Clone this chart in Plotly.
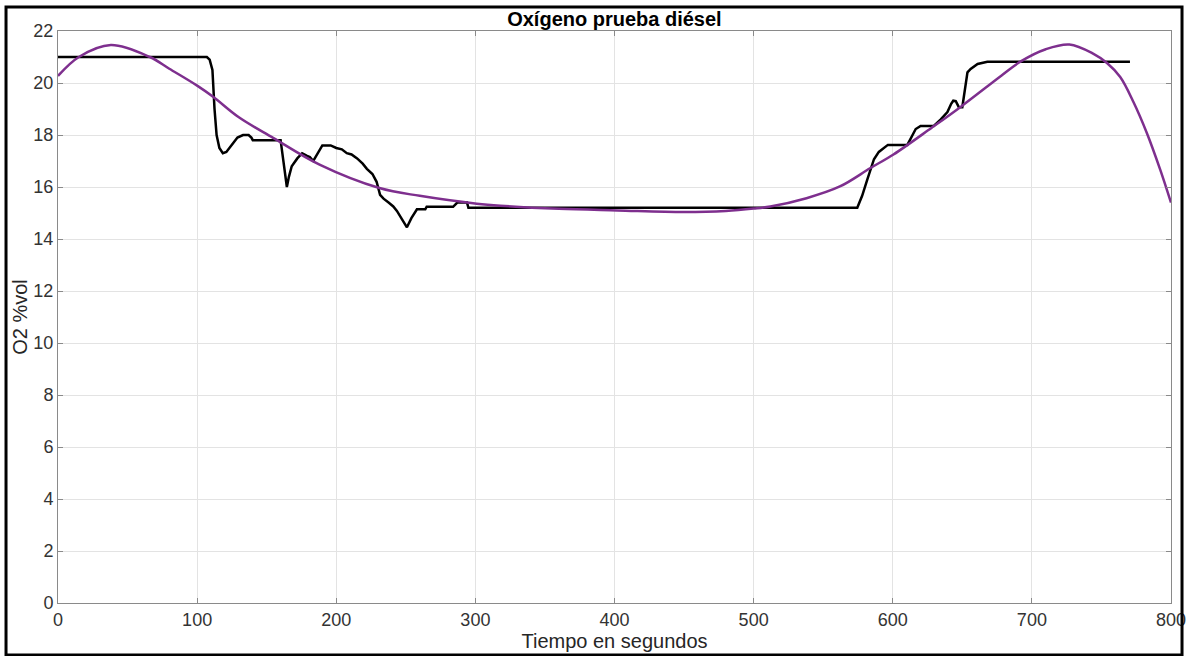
import plotly.graph_objects as go

# Measured O2 (black)
t_meas = [0, 107, 109, 111, 112.5, 114, 116, 118.5, 121, 124, 127, 129, 133, 137, 139, 140,
          160, 162, 164.5, 166, 168, 172, 175.5, 179, 181, 183.5, 187, 190, 196, 200, 204,
          207.6, 211, 215, 219, 222, 226, 229, 231.5, 234, 237.6, 241, 243.6, 247, 250.8,
          254, 258, 264, 265, 284, 287, 294, 295, 574.5, 578, 581.8, 586.5, 590, 592.5,
          596.5, 610.5, 613, 616.5, 620, 629.5, 634.5, 639.3, 642, 643.5, 645.3, 647.5,
          650, 652, 653.7, 656, 661, 668, 770.5]
o2_meas = [21.0, 21.0, 20.9, 20.5, 19.0, 18.0, 17.5, 17.3, 17.35, 17.55, 17.75, 17.9, 18.0,
           18.0, 17.9, 17.8, 17.8, 17.0, 16.0, 16.4, 16.8, 17.1, 17.3, 17.2, 17.15, 17.0,
           17.35, 17.6, 17.6, 17.5, 17.45, 17.3, 17.25, 17.1, 16.9, 16.7, 16.5, 16.2, 15.7,
           15.55, 15.4, 15.25, 15.08, 14.8, 14.45, 14.8, 15.14, 15.14, 15.24, 15.24, 15.4,
           15.4, 15.2, 15.2, 15.66, 16.3, 17.07, 17.35, 17.46, 17.62, 17.62, 17.9, 18.23,
           18.35, 18.35, 18.6, 18.88, 19.2, 19.32, 19.3, 19.07, 19.07, 19.8, 20.41, 20.54,
           20.73, 20.82, 20.82]

# Fitted curve (purple)
t_fit = [0, 15, 38, 66, 80, 100, 111.5, 130, 154.6, 188, 231, 260, 301, 318, 360, 402,
         450, 480, 500, 512, 538, 562, 584, 600.5, 628, 649, 678, 692, 710, 727, 744, 754,
         763.5, 773, 782.7, 792.3, 800]
o2_fit = [20.27, 21.0, 21.46, 21.0, 20.55, 19.9, 19.47, 18.68, 17.89, 16.86, 15.96, 15.66,
          15.36, 15.28, 15.16, 15.1, 15.04, 15.08, 15.17, 15.25, 15.57, 16.02, 16.73, 17.25,
          18.28, 19.09, 20.28, 20.83, 21.3, 21.48, 21.13, 20.77, 20.23, 19.27, 18.07, 16.66,
          15.4]

x_ticks = list(range(0, 801, 100))
y_ticks = list(range(0, 23, 2))

fig = go.Figure()
fig.add_trace(go.Scatter(x=t_meas, y=o2_meas, mode="lines",
                         line=dict(color="black", width=2.5), showlegend=False))
fig.add_trace(go.Scatter(x=t_fit, y=o2_fit, mode="lines",
                         line=dict(color="#7E2F8E", width=2.5, shape="spline", smoothing=1.0),
                         showlegend=False))

font_family = "Liberation Sans, Arial, sans-serif"
axis_common = dict(showgrid=True, gridcolor="#e3e3e3", gridwidth=1,
                   showline=True, linecolor="#8a8a8a", linewidth=1, mirror="ticks",
                   ticks="inside", ticklen=5, tickcolor="#8a8a8a", automargin=False,
                   zeroline=False, tickfont=dict(family=font_family, size=18, color="#333333"))

fig.update_xaxes(range=[0, 800], tickvals=x_ticks, ticktext=[str(v) for v in x_ticks],
                 title=dict(text="Tiempo en segundos", standoff=0,
                            font=dict(family=font_family, size=20, color="#262626")),
                 **axis_common)
fig.update_yaxes(range=[0, 22], tickvals=y_ticks, ticktext=[str(v) for v in y_ticks],
                 title=dict(text="O2 %vol", standoff=0,
                            font=dict(family=font_family, size=20, color="#262626")),
                 **axis_common)

fig.update_layout(
    width=1188, height=656, autosize=False,
    margin=dict(l=58, r=17, t=31, b=53),
    paper_bgcolor="white", plot_bgcolor="white",
    title=dict(text="<b>Oxígeno prueba diésel</b>", x=0.5172, xanchor="center",
               y=0.971, yanchor="middle",
               font=dict(family=font_family, size=20, color="black")),
)

# outer black frame
fig.add_shape(type="rect", xref="paper", yref="paper",
              x0=-0.0467, x1=1.0099, y0=-0.091, y1=1.042,
              line=dict(color="black", width=3), fillcolor="rgba(0,0,0,0)", layer="above")

fig.write_html(
    "out.html",
    config={"displayModeBar": False, "responsive": False},
    default_width="1188px", default_height="656px",
    post_script="document.body.style.margin='0';document.body.style.overflow='hidden';",
)
